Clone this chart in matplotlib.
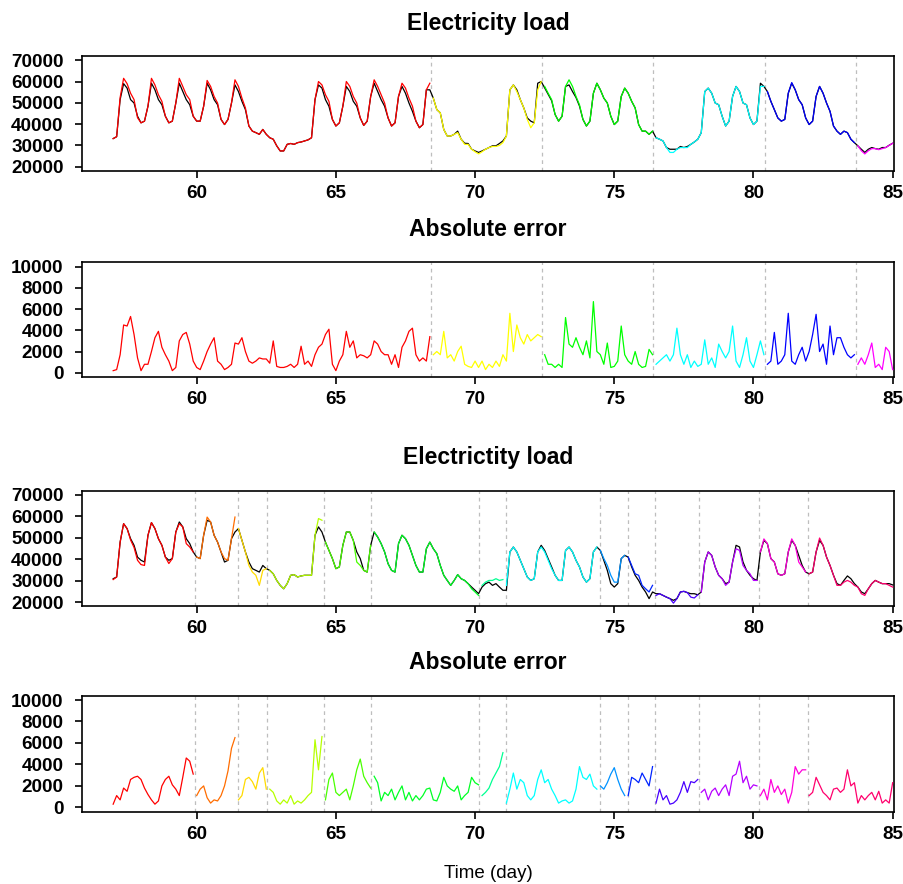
import colorsys
import numpy as np
import matplotlib.pyplot as plt

plt.rcParams['font.family'] = ['Liberation Sans', 'DejaVu Sans']

# 3-hourly sampling, day 57 -> 85 (in thousands)
t = 57 + np.arange(225) / 8

top_load = [
    33.2, 34.1, 51.5, 59.0, 56.9, 51.5, 49.9, 43.7,
    40.6, 41.4, 48.4, 59.2, 56.1, 51.5, 49.1, 43.7,
    40.6, 41.4, 49.9, 59.2, 55.3, 51.5, 49.1, 43.7,
    41.4, 41.4, 48.4, 59.2, 56.1, 51.5, 49.1, 42.2,
    39.8, 42.2, 49.9, 58.4, 55.3, 50.7, 46.8, 39.1,
    36.7, 36.0, 35.2, 37.5, 35.2, 33.6, 32.9, 29.8,
    27.4, 27.4, 30.5, 30.9, 30.5, 31.3, 31.6, 32.1,
    32.6, 33.6, 51.5, 58.4, 56.9, 51.5, 48.4, 42.2,
    39.1, 40.6, 48.4, 57.7, 55.3, 50.7, 48.4, 42.9,
    39.4, 41.4, 53.0, 59.2, 55.3, 51.5, 48.4, 42.9,
    39.1, 40.6, 53.0, 57.7, 54.5, 49.9, 46.0, 41.4,
    38.3, 39.8, 56.1, 56.1, 52.2, 46.8, 45.3, 37.5,
    34.4, 34.4, 35.2, 36.7, 32.9, 31.0, 30.9, 28.2,
    27.4, 26.7, 27.4, 28.2, 29.0, 29.8, 29.8, 30.9,
    32.1, 34.4, 56.1, 58.4, 56.1, 51.5, 47.6, 42.9,
    41.4, 40.6, 59.2, 60.0, 57.0, 54.0, 51.0, 44.5,
    41.4, 43.7, 57.7, 58.4, 55.3, 52.5, 48.5, 42.2,
    39.1, 41.4, 54.5, 59.2, 56.1, 52.2, 49.9, 43.7,
    39.8, 41.4, 53.0, 56.9, 54.5, 50.7, 47.6, 39.8,
    36.7, 36.7, 35.2, 36.7, 33.6, 32.9, 32.1, 29.0,
    28.2, 28.2, 28.2, 29.5, 29.0, 29.5, 30.5, 31.6,
    32.9, 36.0, 55.3, 56.9, 54.5, 49.9, 49.1, 43.7,
    39.1, 41.4, 53.0, 57.7, 55.3, 49.9, 49.1, 42.9,
    39.8, 41.4, 59.2, 57.7, 55.3, 50.7, 46.8, 42.9,
    41.4, 42.2, 54.5, 59.2, 56.1, 51.5, 49.1, 42.9,
    39.8, 41.4, 53.0, 57.7, 54.5, 49.9, 46.0, 39.1,
    36.7, 35.2, 36.7, 36.0, 32.9, 31.3, 29.8, 28.2,
    26.7, 28.2, 29.0, 28.5, 28.2, 29.0, 29.0, 30.1,
    31.0]

top_fit = [
    33.2, 34.1, 52.5, 61.5, 59.0, 54.5, 51.5, 43.0,
    40.6, 41.4, 48.4, 61.5, 58.4, 53.8, 50.7, 43.7,
    40.6, 41.4, 49.9, 61.5, 57.7, 53.8, 51.5, 43.7,
    41.4, 41.4, 48.4, 60.5, 57.7, 53.0, 49.9, 42.2,
    39.8, 42.2, 49.9, 60.8, 57.7, 52.2, 47.6, 39.1,
    36.7, 36.0, 35.2, 37.5, 35.2, 33.6, 32.9, 29.8,
    27.4, 27.4, 30.5, 30.9, 30.5, 31.3, 31.6, 32.1,
    32.6, 33.6, 51.5, 60.0, 58.4, 53.8, 50.7, 42.2,
    39.1, 40.6, 48.4, 60.0, 57.7, 53.0, 49.9, 42.9,
    39.4, 41.4, 53.0, 60.8, 57.7, 53.8, 49.9, 42.9,
    39.1, 40.6, 53.0, 59.2, 56.9, 52.2, 48.4, 41.4,
    38.3, 39.8, 56.1, 59.2, 52.2, 46.8, 45.3, 37.5,
    34.4, 34.4, 35.2, 36.0, 32.9, 30.5, 30.5, 28.2,
    27.0, 26.0, 27.0, 28.2, 29.0, 29.5, 29.5, 30.0,
    31.3, 34.4, 56.1, 58.4, 55.3, 51.5, 47.6, 42.2,
    38.3, 40.6, 56.1, 60.0, 57.7, 54.5, 51.5, 44.5,
    41.4, 43.7, 57.7, 60.8, 57.7, 53.0, 49.1, 42.2,
    39.1, 41.4, 54.5, 59.2, 56.1, 52.2, 49.9, 43.7,
    39.8, 41.4, 53.0, 56.9, 54.5, 50.7, 47.6, 39.8,
    36.7, 36.7, 35.2, 36.7, 33.6, 32.9, 32.1, 29.0,
    26.7, 26.7, 28.2, 29.0, 29.0, 29.0, 30.5, 31.6,
    32.9, 36.0, 55.3, 56.9, 54.5, 49.9, 49.1, 43.7,
    39.1, 41.4, 53.0, 57.7, 55.3, 49.9, 49.1, 42.9,
    39.8, 41.4, 57.7, 57.7, 55.3, 50.7, 46.8, 42.9,
    41.4, 42.2, 54.5, 59.5, 56.1, 51.5, 49.1, 42.9,
    39.8, 41.4, 53.0, 57.7, 54.5, 49.9, 46.0, 39.1,
    36.7, 35.2, 36.7, 36.0, 32.9, 31.3, 29.8, 27.5,
    26.0, 27.5, 28.5, 28.5, 28.0, 28.5, 29.0, 30.0,
    31.0]

top_err = [
    0.2, 0.3, 1.7, 4.5, 4.4, 5.3, 3.6, 1.4,
    0.2, 0.8, 0.8, 2.0, 3.3, 3.9, 2.4, 1.7,
    1.1, 0.2, 0.5, 3.0, 3.6, 3.8, 2.7, 1.1,
    0.5, 0.3, 1.1, 2.0, 2.7, 3.3, 1.1, 0.8,
    0.3, 0.5, 0.8, 2.8, 2.7, 3.3, 2.0, 1.1,
    0.9, 1.1, 1.4, 1.3, 1.3, 0.9, 3.0, 0.6,
    0.5, 0.5, 0.6, 0.8, 0.5, 0.8, 2.5, 0.8,
    1.1, 0.6, 1.7, 2.4, 2.7, 3.6, 4.1, 0.8,
    0.2, 1.1, 1.7, 3.9, 2.4, 3.0, 1.4, 1.7,
    1.6, 1.4, 1.7, 3.0, 2.7, 2.0, 1.7, 1.7,
    0.8, 1.7, 0.5, 2.4, 3.0, 3.9, 4.2, 1.7,
    1.1, 1.4, 1.1, 3.4, 1.7, 2.0, 1.7, 3.9,
    1.4, 1.7, 1.1, 2.0, 2.5, 0.8, 0.6, 0.5,
    1.1, 0.5, 1.1, 0.3, 0.8, 0.5, 1.1, 0.6,
    1.7, 1.1, 5.6, 2.0, 4.5, 3.3, 2.7, 3.6,
    3.0, 3.3, 3.6, 3.4, 1.7, 0.8, 0.8, 0.5,
    0.8, 0.5, 5.2, 2.7, 2.4, 3.3, 2.4, 1.7,
    3.0, 1.4, 6.7, 2.0, 1.7, 0.8, 2.8, 0.5,
    0.6, 1.1, 4.4, 1.7, 1.1, 0.8, 2.0, 0.8,
    0.5, 0.6, 2.2, 1.7, 0.8, 1.1, 1.4, 1.7,
    1.1, 1.7, 4.2, 1.7, 0.8, 1.7, 0.5, 1.1,
    0.6, 0.8, 3.1, 0.8, 1.4, 0.5, 2.7, 2.0,
    1.4, 2.0, 4.4, 1.1, 0.5, 1.7, 3.3, 1.1,
    0.5, 1.7, 3.0, 1.7, 0.8, 1.1, 3.8, 0.8,
    1.1, 1.7, 5.6, 1.1, 0.8, 1.7, 2.4, 1.1,
    2.0, 3.6, 5.5, 2.0, 2.7, 0.8, 4.4, 1.7,
    3.3, 3.3, 2.4, 1.7, 1.4, 1.7, 0.8, 1.4,
    0.8, 1.7, 2.8, 0.5, 0.8, 0.3, 2.4, 2.0,
    0.3]

bot_load = [
    30.9, 31.7, 48.0, 56.6, 54.3, 49.6, 46.5, 41.0,
    39.5, 38.7, 51.2, 57.1, 54.3, 49.6, 46.5, 41.0,
    39.5, 40.3, 52.7, 57.4, 55.1, 49.6, 47.3, 43.4,
    41.0, 40.3, 51.2, 58.2, 57.4, 51.2, 48.0, 43.4,
    38.7, 39.5, 49.6, 52.7, 54.3, 48.8, 43.4, 38.7,
    35.6, 34.8, 34.0, 37.1, 35.6, 34.8, 33.2, 30.1,
    27.8, 26.2, 28.6, 32.5, 32.8, 31.7, 32.2, 32.5,
    32.5, 32.5, 51.2, 55.1, 52.7, 48.0, 44.1, 40.3,
    35.6, 36.4, 46.5, 52.7, 52.7, 48.8, 43.4, 40.3,
    34.8, 34.0, 46.5, 52.7, 50.4, 47.3, 43.4, 37.9,
    34.8, 34.0, 47.3, 51.2, 49.6, 46.5, 41.8, 37.1,
    34.0, 34.0, 44.9, 48.0, 44.9, 42.6, 37.1, 32.5,
    30.1, 27.8, 30.1, 32.8, 30.9, 30.1, 28.6, 27.0,
    25.5, 23.9, 27.0, 28.6, 29.3, 27.8, 28.6, 27.0,
    25.5, 25.5, 43.4, 45.7, 43.4, 39.5, 35.6, 31.7,
    30.1, 30.9, 43.4, 46.5, 44.1, 40.3, 36.4, 32.5,
    30.1, 30.1, 44.1, 45.7, 43.4, 39.5, 36.4, 31.7,
    29.3, 30.9, 43.4, 45.7, 44.1, 39.5, 34.8, 28.6,
    27.0, 28.6, 40.3, 41.8, 41.0, 36.4, 32.5, 30.1,
    27.0, 24.7, 21.6, 24.7, 23.9, 23.9, 23.1, 22.3,
    21.6, 20.8, 21.6, 24.7, 25.0, 24.4, 23.9, 23.9,
    23.4, 24.7, 38.7, 43.4, 41.8, 36.4, 32.5, 30.9,
    28.6, 29.3, 38.7, 46.5, 45.7, 38.7, 34.8, 32.5,
    30.9, 30.1, 43.4, 48.8, 47.3, 40.3, 38.7, 33.2,
    32.5, 33.2, 43.4, 48.8, 46.5, 41.8, 37.1, 34.0,
    33.2, 34.0, 43.4, 48.8, 46.5, 41.0, 37.1, 32.5,
    28.6, 27.8, 30.1, 32.2, 30.9, 28.6, 27.0, 24.7,
    23.9, 26.2, 28.6, 30.1, 29.3, 28.6, 28.6, 28.6,
    28.0]

bot_fit = [
    30.5, 31.7, 48.0, 56.6, 54.3, 49.0, 45.5, 39.5,
    37.5, 37.1, 51.2, 57.1, 54.3, 49.6, 46.5, 41.0,
    38.0, 40.3, 52.7, 56.6, 55.1, 47.3, 45.7, 43.4,
    41.0, 40.3, 51.2, 59.7, 57.4, 51.2, 48.0, 43.4,
    40.3, 39.5, 49.6, 59.7, 54.3, 48.8, 43.4, 37.1,
    34.0, 32.5, 27.8, 34.8, 35.6, 34.8, 33.2, 30.1,
    27.8, 26.2, 28.6, 32.5, 32.8, 31.7, 32.2, 32.5,
    32.5, 32.5, 51.2, 59.0, 58.2, 48.0, 44.1, 40.3,
    35.6, 36.4, 46.5, 52.7, 52.7, 48.8, 38.7, 37.1,
    34.8, 34.0, 46.5, 52.7, 50.4, 47.3, 43.4, 37.9,
    34.8, 34.0, 47.3, 51.2, 49.6, 46.5, 41.8, 37.1,
    34.0, 34.0, 44.9, 48.0, 44.9, 42.6, 37.1, 32.5,
    30.1, 27.8, 30.1, 32.8, 30.9, 30.1, 28.6, 26.2,
    24.7, 23.1, 27.8, 29.3, 30.1, 30.1, 30.9, 30.1,
    30.5, 27.8, 43.4, 45.7, 43.4, 39.5, 35.6, 31.7,
    30.1, 30.9, 43.4, 45.7, 43.4, 39.5, 35.6, 32.5,
    30.1, 30.1, 44.1, 45.7, 43.4, 39.5, 36.4, 31.7,
    29.3, 30.9, 43.4, 45.7, 44.1, 40.3, 37.1, 32.5,
    29.3, 29.3, 40.3, 41.8, 41.0, 37.1, 33.2, 32.5,
    27.8, 26.2, 24.7, 27.8, 23.1, 23.9, 23.1, 22.3,
    21.6, 19.5, 21.6, 24.7, 25.0, 24.4, 22.3, 21.9,
    23.4, 24.7, 38.7, 43.4, 41.8, 36.4, 32.5, 30.9,
    27.8, 29.3, 38.7, 44.9, 44.1, 37.1, 34.8, 33.2,
    30.1, 30.1, 43.4, 49.5, 47.3, 40.3, 38.7, 33.2,
    32.5, 33.2, 43.4, 49.5, 46.5, 38.7, 36.4, 34.0,
    33.2, 34.0, 43.4, 49.9, 46.5, 41.0, 37.1, 32.5,
    27.8, 27.8, 29.3, 30.1, 29.3, 27.8, 27.0, 23.9,
    23.1, 26.2, 28.6, 30.1, 29.3, 28.6, 28.6, 27.8,
    27.0]

bot_err = [
    0.3, 1.1, 0.7, 1.8, 1.5, 2.6, 2.8, 2.9,
    2.6, 1.8, 1.2, 0.7, 0.3, 0.6, 2.0, 2.6,
    2.9, 2.1, 1.7, 1.1, 2.8, 4.6, 4.3, 3.1,
    1.1, 1.7, 2.0, 0.9, 0.4, 0.7, 0.6, 1.1,
    2.0, 3.4, 5.5, 6.5, 0.7, 1.1, 2.6, 2.8,
    2.4, 1.7, 3.2, 3.7, 1.7, 1.7, 1.4, 0.6,
    0.3, 0.7, 0.4, 1.1, 0.3, 0.6, 0.4, 0.7,
    1.1, 1.4, 6.3, 3.5, 6.6, 0.7, 2.6, 3.2,
    1.4, 1.1, 1.4, 1.7, 0.7, 2.0, 3.5, 4.5,
    2.9, 2.3, 1.8, 2.9, 2.3, 0.6, 1.4, 1.1,
    1.7, 0.7, 1.4, 2.0, 0.7, 1.4, 0.6, 1.1,
    0.7, 1.1, 1.7, 1.8, 0.7, 0.6, 1.4, 2.8,
    2.0, 1.7, 1.5, 2.0, 0.7, 1.1, 1.4, 2.8,
    2.3, 2.1, 1.1, 1.4, 1.8, 2.6, 3.2, 3.8,
    5.1, 0.4, 1.7, 3.2, 1.7, 2.6, 2.3, 1.1,
    0.7, 1.1, 2.6, 3.5, 2.3, 2.6, 1.7, 1.1,
    0.4, 0.6, 0.7, 0.4, 0.6, 1.7, 3.8, 2.8,
    2.6, 3.1, 2.0, 1.7, 2.0, 1.7, 2.3, 3.1,
    3.7, 2.6, 1.7, 1.1, 1.1, 2.8, 2.6, 2.3,
    3.2, 2.6, 2.0, 3.8, 0.4, 1.7, 0.7, 1.1,
    0.3, 0.4, 0.7, 1.4, 2.4, 1.4, 2.4, 2.3,
    2.6, 1.4, 1.7, 0.7, 1.5, 1.8, 1.1, 1.7,
    2.1, 1.1, 2.9, 3.1, 4.3, 2.3, 2.9, 1.7,
    2.1, 2.0, 1.1, 1.7, 0.7, 2.6, 1.4, 2.0,
    1.2, 1.7, 0.4, 1.4, 3.8, 3.1, 3.5, 3.5,
    1.1, 1.4, 2.8, 2.1, 1.4, 1.1, 0.7, 1.7,
    1.8, 1.4, 1.7, 3.5, 2.0, 2.3, 0.4, 1.1,
    0.7, 1.1, 1.4, 0.7, 1.5, 0.4, 0.7, 0.4,
    2.3]

# change points (days) separating the coloured model segments
top_breaks = [68.40, 72.41, 76.40, 80.43, 83.68]
bot_breaks = [59.93, 61.47, 62.54, 64.58, 66.26, 70.14, 71.12,
              74.50, 75.48, 76.47, 78.04, 80.21, 81.96]

load_ticks = [20000, 30000, 40000, 50000, 60000, 70000]
err_ticks = [0, 2000, 4000, 6000, 8000, 10000]
day_ticks = [60, 65, 70, 75, 80, 85]


def rainbow(n):
    # same as R's rainbow(n)
    return [colorsys.hsv_to_rgb(i / n, 1, 1) for i in range(n)]


def seg_masks(breaks):
    edges = [-np.inf] + breaks + [np.inf]
    return [(t >= a) & (t < b) for a, b in zip(edges[:-1], edges[1:])]


def setup(ax, title, ylim, yticks, breaks):
    ax.set_xlim(55.88, 85.06)
    ax.set_ylim(*ylim)
    ax.set_xticks(day_ticks)
    ax.set_xticklabels([str(d) for d in day_ticks], fontweight='bold')
    ax.set_yticks(yticks)
    ax.set_yticklabels([str(v) for v in yticks], fontweight='bold')
    ax.tick_params(axis='both', direction='out', length=5, width=1.2,
                   labelsize=13.6)
    ax.tick_params(axis='y', pad=8.3)
    ax.tick_params(axis='x', pad=5)
    for s in ax.spines.values():
        s.set_linewidth(1.2)
    for b in breaks:
        ax.axvline(b, color='#BEBEBE', lw=0.9, ls=(0, (3, 3)), zorder=1)
    ax.set_title(title, fontsize=16.5, fontweight='bold', pad=19)


fig = plt.figure(figsize=(9.04, 8.84), dpi=100)
rects = [(0.0907, 0.8066, 0.8986, 0.1301),
         (0.0907, 0.5735, 0.8986, 0.1298),
         (0.0907, 0.3141, 0.8986, 0.1308),
         (0.0907, 0.0818, 0.8986, 0.1312)]
ax1, ax2, ax3, ax4 = [fig.add_axes(r) for r in rects]

groups = [
    (ax1, ax2, top_load, top_fit, top_err, top_breaks, "Electricity load"),
    (ax3, ax4, bot_load, bot_fit, bot_err, bot_breaks, "Electrictity load"),
]
for axl, axe, load, fit, err, breaks, ttl in groups:
    load = np.array(load) * 1000
    fit = np.array(fit) * 1000
    err = np.array(err) * 1000
    cols = rainbow(len(breaks) + 1)
    setup(axl, ttl, (18000, 72000), load_ticks, breaks)
    setup(axe, "Absolute error", (-400, 10400), err_ticks, breaks)
    axl.plot(t, load, color='black', lw=0.9, zorder=2)
    for m, c in zip(seg_masks(breaks), cols):
        axl.plot(t[m], fit[m], color=c, lw=0.9, zorder=3)
        axe.plot(t[m], err[m], color=c, lw=0.9, zorder=3)

fig.text(0.0907 + 0.8986 / 2, 1 - 873 / 884, "Time (day)", fontsize=13.5,
         ha='center', va='center')

fig.savefig("out.png", dpi=100)
